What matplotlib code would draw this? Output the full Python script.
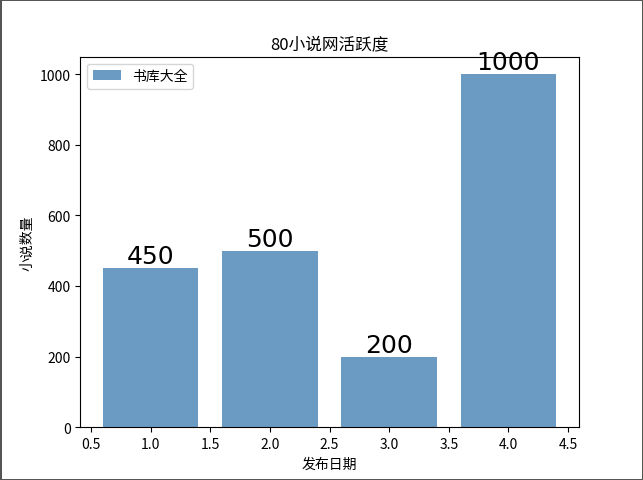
import matplotlib
matplotlib.use("Agg")
import matplotlib.pyplot as plt

plt.rcParams['font.family'] = ['Noto Sans CJK SC', 'DejaVu Sans']
plt.rcParams['axes.unicode_minus'] = False

x = [1, 2, 3, 4]
counts = [450, 500, 200, 1000]
series_name = '书库大全'

fig = plt.figure(figsize=(6.43, 4.81), dpi=100, edgecolor='#555555', linewidth=1)
ax = fig.add_subplot(111)
bars = ax.bar(x, counts, width=0.8, color='steelblue', alpha=0.8, label=series_name)
for xi, v in zip(x, counts):
    ax.text(xi, v, str(v), ha='center', va='bottom', fontsize=18, fontfamily='DejaVu Sans')
ax.set_xticks([0.5, 1.0, 1.5, 2.0, 2.5, 3.0, 3.5, 4.0, 4.5])
ax.set_title('80小说网活跃度')
ax.set_xlabel('发布日期')
ax.set_ylabel('小说数量')
ax.legend(loc='upper left')
fig.savefig('out.png', dpi=100, edgecolor=fig.get_edgecolor())
